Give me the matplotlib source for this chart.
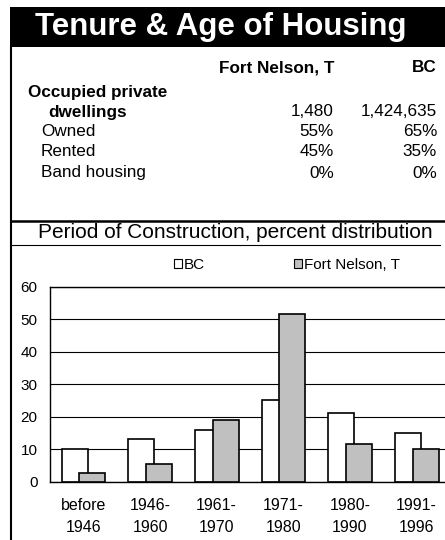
import numpy as np
import matplotlib.pyplot as plt
from matplotlib.patches import Patch
from matplotlib.lines import Line2D
from matplotlib.patches import Rectangle

plt.rcParams['font.family'] = ['Liberation Sans', 'DejaVu Sans']

# ---- data
title = 'Tenure & Age of Housing'
col_names = ['Fort Nelson, T', 'BC']
row_names = ['Owned', 'Rented', 'Band housing']
dwellings = ['1,480', '1,424,635']
fn_tenure = ['55%', '45%', '0%']
bc_tenure = ['65%', '35%', '0%']

periods = ['before\n1946', '1946-\n1960', '1961-\n1970', '1971-\n1980',
           '1980-\n1990', '1991-\n1996']
bc_pct = [10, 13, 16, 25, 21, 15]
fn_pct = [2.5, 5.5, 19, 51.5, 11.5, 10]

W, H = 445, 540


def fx(px):
    return px / W


def fy(py):
    return 1 - py / H


fig = plt.figure(figsize=(W / 100, H / 100), dpi=100)

# ---- frame / header
fig.add_artist(Rectangle((fx(10), fy(47)), fx(440), 40 / H, transform=fig.transFigure,
                         facecolor='black', edgecolor='none'))
fig.text(fx(221), fy(27), title, color='white', fontsize=22.5, fontweight='bold',
         ha='center', va='center')
fig.add_artist(Line2D([fx(11), fx(11)], [fy(47), fy(540)], transform=fig.transFigure,
                      color='black', lw=1.5))
fig.add_artist(Line2D([fx(11), fx(445)], [fy(220.7), fy(220.7)], transform=fig.transFigure,
                      color='black', lw=1.8))
fig.add_artist(Line2D([fx(11), fx(440)], [fy(245), fy(245)], transform=fig.transFigure,
                      color='black', lw=0.8))

# ---- table
fs = 12.3
fig.text(fx(334), fy(68), col_names[0], fontsize=fs, fontweight='bold', ha='right', va='center')
fig.text(fx(437), fy(68), col_names[1], fontsize=fs, fontweight='bold', ha='right', va='center')
fig.text(fx(28), fy(92), 'Occupied private', fontsize=fs, fontweight='bold', va='center')
fig.text(fx(48), fy(112), 'dwellings', fontsize=fs, fontweight='bold', va='center')
fig.text(fx(334), fy(112), dwellings[0], fontsize=fs, ha='right', va='center')
fig.text(fx(437), fy(112), dwellings[1], fontsize=fs, ha='right', va='center')
for i, name in enumerate(row_names):
    y = [132, 152, 173][i]
    fig.text(fx(41), fy(y), name, fontsize=fs, va='center')
    fig.text(fx(334), fy(y), fn_tenure[i], fontsize=fs, ha='right', va='center')
    fig.text(fx(437), fy(y), bc_tenure[i], fontsize=fs, ha='right', va='center')

fig.text(fx(235), fy(233), 'Period of Construction, percent distribution', fontsize=15,
         ha='center', va='center')

# ---- bar chart
ax = fig.add_axes([fx(50), fy(481.5), 400 / W, 194.8 / H])
x = np.arange(len(periods))
bw = 0.39
ax.bar(x - 0.13, bc_pct, bw, color='white', edgecolor='black', lw=1.2, zorder=2, label='BC')
ax.bar(x + 0.135, fn_pct, bw, color='#c0c0c0', edgecolor='black', lw=1.2, zorder=3,
       label='Fort Nelson, T')
ax.set_xlim(-0.5, 5.5)
ax.set_ylim(0, 60)
ax.set_yticks(range(0, 70, 10))
ax.set_xticks(x)
ax.set_xticklabels(periods, fontsize=11.5, linespacing=1.55)
ax.tick_params(axis='y', length=0, pad=9, labelsize=11)
ax.tick_params(axis='x', length=0, pad=12)
ax.yaxis.grid(True, color='black', lw=0.8, zorder=0)
ax.set_axisbelow(True)
for s in ['left', 'top', 'bottom']:
    ax.spines[s].set_linewidth(1.0)
ax.spines['right'].set_visible(False)

handles = [Patch(facecolor='white', edgecolor='black', lw=0.8),
           Patch(facecolor='#c0c0c0', edgecolor='black', lw=0.8)]
fig.legend(handles, ['BC', 'Fort Nelson, T'], ncol=2, loc='center',
           bbox_to_anchor=(fx(287), fy(265)), frameon=False, fontsize=11,
           handlelength=0.5, handleheight=0.5, handletextpad=0.15, columnspacing=5.8)

fig.savefig('out.png', dpi=100)
